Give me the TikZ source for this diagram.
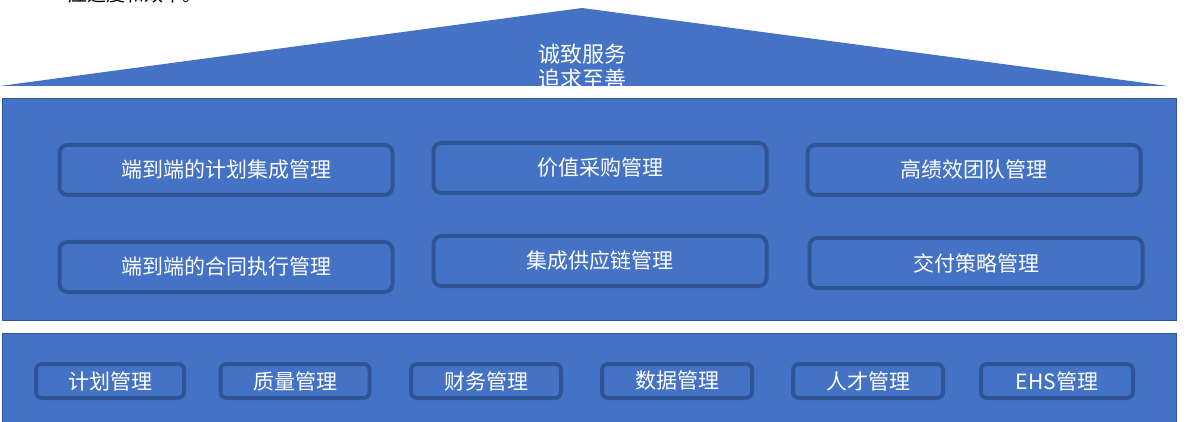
\documentclass[tikz,border=0pt]{standalone}
\usepackage{fontspec}
\setmainfont{Noto Sans CJK SC}
\begin{document}
\begin{tikzpicture}[x=1pt,y=-1pt,
  band/.style={fill=blu,draw=bord,line width=0.8pt},
  box/.style={draw=bord,line width=4pt,rounded corners=8pt,fill=blu,text=white,font=\fontsize{21}{24}\selectfont},
  sbox/.style={box,line width=4pt,rounded corners=6pt}]
\definecolor{blu}{HTML}{4472C4}
\definecolor{bord}{HTML}{2F5597}
\useasboundingbox (0,0) rectangle (1189,422);
\begin{scope}
\clip (0,0) rectangle (1189,422);
\node[anchor=base west,font=\fontsize{19}{20}\selectfont,inner sep=0pt] (frag) at (68,2) {应速度和效率。};
\end{scope}
\fill[blu] (0,86) -- (582,8) -- (1168,86) -- cycle;
\begin{scope}
\clip (0,0) rectangle (1189,86);
\node[text=white,font=\fontsize{22}{25}\selectfont,align=center] (roof) at (582,67) {诚致服务\\追求至善};
\end{scope}
\draw[band] (2,98) rectangle (1176,320);
\draw[band] (2,333) rectangle (1176,424);
\node[box,minimum width=333pt,minimum height=50pt] (a1) at (226,170) {端到端的计划集成管理};
\node[box,minimum width=333pt,minimum height=50pt] (a2) at (600,168) {价值采购管理};
\node[box,minimum width=333pt,minimum height=50pt] (a3) at (974,170) {高绩效团队管理};
\node[box,minimum width=333pt,minimum height=50pt] (b1) at (226,267) {端到端的合同执行管理};
\node[box,minimum width=333pt,minimum height=50pt] (b2) at (600,261) {集成供应链管理};
\node[box,minimum width=333pt,minimum height=50pt] (b3) at (976,263) {交付策略管理};
\node[sbox,minimum width=148pt,minimum height=34pt] (c1) at (110,381) {计划管理};
\node[sbox,minimum width=149pt,minimum height=34pt] (c2) at (295,381) {质量管理};
\node[sbox,minimum width=150pt,minimum height=34pt] (c3) at (486,381) {财务管理};
\node[sbox,minimum width=150pt,minimum height=34pt] (c4) at (677,381) {数据管理};
\node[sbox,minimum width=150pt,minimum height=34pt] (c5) at (868,381) {人才管理};
\node[sbox,minimum width=152pt,minimum height=34pt] (c6) at (1057,381) {EHS管理};
\end{tikzpicture}
\end{document}
